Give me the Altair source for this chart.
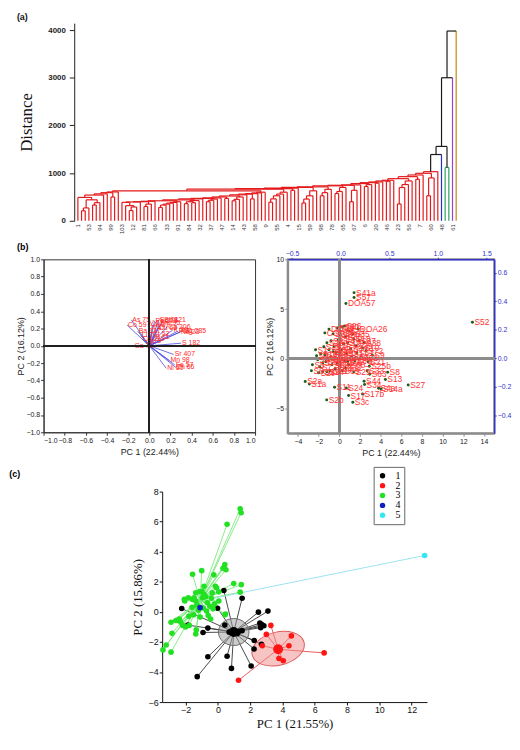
import altair as alt
import pandas as pd

# ------------------------------------------------------------------
# (a) dendrogram: tree structure with merge heights
# ------------------------------------------------------------------
RED, BLUE, GREEN, PURPLE, ORANGE, BLACK = "#e41a1c", "#2233cc", "#2ca25f", "#9b3fe0", "#c8860a", "#1a1a1a"
O = "leaf"


def C(*items, h):
    node = items[0]
    for it, hh in zip(items[1:], h):
        node = (node, it, hh)
    return node


L_a = C(C(O, O, h=[210]), O, h=[270])
L_b = C(O, O, O, h=[330, 380])
L_ab = C(L_a, L_b, h=[440])
L_c = C(O, O, h=[500])
L_heights = [540, 565, 590, 605]
L_grp = C(C(O, L_ab, h=[490]), O, O, L_c, O, h=L_heights)

M1 = C(O, C(C(O, O, h=[215]), O, h=[290]), h=[318])
M2 = C(C(O, O, h=[300]), O, h=[350])
M3 = C(C(O, O, h=[280]), O, O, O, O, O, h=[330, 350, 370, 385, 400])
M4 = C(C(O, O, h=[360]), C(O, O, h=[380]), O, h=[400, 425])
M5 = C(C(O, O, h=[400]), O, O, h=[430, 455])
M6 = C(O, O, h=[470])
M7 = C(C(O, O, h=[420]), O, O, h=[450, 500])
M8 = C(O, O, h=[460])
M_chain_heights = [387, 395, 400, 410, 420, 440, 460, 470, 480, 500, 520, 545, 560, 570, 585, 600]
M_grp = C(O, M1, O, M2, O, M3, M4, O, M5, O, M6, M7, O, M8, O, O, O, h=M_chain_heights)
LM = C(L_grp, M_grp, h=[628])

R1 = C(C(O, O, h=[390]), O, O, O, O, h=[460, 525, 560, 600])
R2 = C(O, O, h=[640])
R3 = C(C(O, O, h=[373]), O, O, O, h=[456, 525, 629])
R4 = C(C(O, O, h=[525]), O, O, h=[590, 660])
R5 = C(C(O, O, h=[573]), O, O, h=[615, 700])
R6 = C(C(O, O, h=[400]), O, h=[640])
R7 = C(O, O, O, h=[720, 760])
R8 = C(O, O, h=[790])
R9 = C(O, O, h=[830])
R10 = C(C(C(O, O, h=[353]), O, h=[698]), O, O, h=[760, 836])
R11 = C(O, O, h=[870])
R12 = C(C(O, O, h=[525]), O, h=[900])
red_chain_heights = [663, 675, 684, 700, 712, 733, 745, 753, 781, 800, 815, 835, 850, 884, 926, 961, 996, 1030]
red_tree = C(LM, R1, R2, O, R3, R4, R5, R6, O, R7, R8, O, R9, O, R10, R11, O, R12, O, h=red_chain_heights)

green_height = 1120
top_heights = [1390, 1560, 3000, 3980]
root = C(("clu", red_tree, RED), ("clu", O, BLUE), ("clu", (O, O, green_height), GREEN),
         ("clu", O, PURPLE), ("clu", O, ORANGE), h=top_heights)

leaf_tick_labels = ["1", "53", "94", "99", "103", "12", "81", "66", "33", "91", "84", "32", "37",
                    "47", "14", "43", "58", "9", "55", "4", "15", "59", "98", "78", "65", "67",
                    "6", "20", "46", "23", "56", "7", "60", "48", "61"]

segs = []
counter = [0]


def lay(node, color):
    if node == O:
        x = counter[0]
        counter[0] += 1
        return x, 0.0, True, color
    if node[0] == "clu":
        return lay(node[1], node[2])
    l, r, h = node
    xl, hl, isl, cl = lay(l, color)
    xr, hr, isr, cr = lay(r, color)
    segs.append((xl, hl, xl, h, cl if isl else color))
    segs.append((xr, hr, xr, h, cr if isr else color))
    segs.append((xl, h, xr, h, color))
    return (xl + xr) / 2.0, h, False, color


lay(root, BLACK)
seg_df = pd.DataFrame(segs, columns=["x", "y", "x2", "y2", "c"])

label_expr = "[" + ",".join(repr(s) for s in leaf_tick_labels) + "][round(datum.value / 3)]"


def spacer(w, h=1, title=None, offset=8):
    props = dict(width=w, height=h, view=alt.ViewBackground(stroke="transparent"))
    if title is not None:
        props["title"] = alt.TitleParams(title, anchor="start", frame="bounds", fontSize=9,
                                         fontWeight="bold", offset=offset)
    return alt.Chart(pd.DataFrame({"v": [0]})).mark_point(opacity=0).encode(
        x=alt.value(0), y=alt.value(0)).properties(**props)


dend = alt.Chart(seg_df).mark_rule(strokeWidth=1.2).encode(
    x=alt.X("x:Q", scale=alt.Scale(domain=[-1, 103.4], nice=False, zero=False),
            axis=alt.Axis(values=list(range(0, 103, 3)), labelExpr=label_expr, labelAngle=270,
                          domain=False, ticks=False, title=None, labelFontSize=6,
                          labelColor="#333", labelPadding=3, labelOverlap=False)),
    x2="x2:Q",
    y=alt.Y("y:Q", scale=alt.Scale(domain=[0, 4145], nice=False),
            axis=alt.Axis(values=[0, 1000, 2000, 3000, 4000], format="d", title="Distance",
                          titleFont="Liberation Serif", titleFontSize=17, titleFontWeight="normal",
                          titleColor="#111", titlePadding=12, labelFontSize=8, labelFontWeight="bold",
                          labelColor="#222", tickSize=5, tickColor="#222", domainColor="#222",
                          labelPadding=4, labelOverlap=False)),
    y2="y2:Q",
    color=alt.Color("c:N", scale=None),
)
tag_a = alt.Chart(pd.DataFrame({"t": ["(a)"]})).mark_text(
    align="left", baseline="middle", fontSize=9, fontWeight="bold", color="#111").encode(
    x=alt.value(-58), y=alt.value(-6), text="t:N")
chart_a = alt.layer(dend, tag_a).properties(
    width=388, height=200, view=alt.ViewBackground(stroke="transparent"))

# ------------------------------------------------------------------
# (b) left: loadings
# ------------------------------------------------------------------
load_labels = ["As 75", "Co 59", "Ba 137", "Li 7", "Cd 111", "Ga 71", "Be 9", "V 51", "Ti 47",
               "Cr 52", "Pb 208", "Se 78", "Sb 121", "Al 27", "Cu 63", "Mo 95", "Ca 206", "K 39",
               "P 31", "Na 23", "Mg 285", "S 182", "Sr 407", "Mn 98", "Fe 57", "Zn 66", "Ni 60", "B 11"]
load_x = [-0.17, -0.21, -0.11, -0.08, -0.07, -0.15, -0.03, -0.01, 0.0, 0.02, 0.05, 0.09, 0.13, 0.03,
          0.08, 0.10, 0.17, 0.22, 0.27, 0.29, 0.31, 0.30, 0.23, 0.19, 0.24, 0.25, 0.16, 0.05]
load_y = [0.30, 0.24, 0.17, 0.12, 0.08, 0.0, 0.05, 0.26, 0.20, 0.14, 0.29, 0.30, 0.30, 0.24,
          0.20, 0.26, 0.22, 0.18, 0.17, 0.16, 0.17, 0.03, -0.10, -0.17, -0.22, -0.25, -0.26, 0.10]
load_df = pd.DataFrame({"el": load_labels, "x": load_x, "y": load_y})

ax_b = dict(labelFontSize=7, labelColor="#222", tickSize=3, tickColor="#333", domainColor="#333",
            titleFontSize=9, titleFontWeight="normal", titleColor="#222", labelPadding=1,
            labelOverlap=False)
vals_b1 = [-1.0, -0.8, -0.6, -0.4, -0.2, 0.0, 0.2, 0.4, 0.6, 0.8, 1.0]
AX_b1x = alt.Axis(values=vals_b1, format=".1f", title="PC 1 (22.44%)", titlePadding=4, **ax_b)
AX_b1y = alt.Axis(values=vals_b1, format=".1f", title="PC 2 (16.12%)", titlePadding=0, **ax_b)
xs_b1 = alt.Scale(domain=[-1, 1], nice=False)
ys_b1 = alt.Scale(domain=[-1, 1], nice=False)

b1_vec = alt.Chart(load_df).mark_rule(color="#4a4ae0", strokeWidth=0.8).encode(
    x=alt.X("x:Q", scale=xs_b1, axis=AX_b1x), y=alt.Y("y:Q", scale=ys_b1, axis=AX_b1y),
    x2=alt.datum(0), y2=alt.datum(0))
b1_txt = alt.Chart(load_df).mark_text(align="left", baseline="middle", dx=1, fontSize=7,
                                      color="#ff2a2a").encode(
    x=alt.X("x:Q", scale=xs_b1, axis=AX_b1x), y=alt.Y("y:Q", scale=ys_b1, axis=AX_b1y), text="el:N")
b1_v = alt.Chart(load_df).mark_rule(color="#222", strokeWidth=1).encode(
    x=alt.X(datum=0, scale=xs_b1, axis=AX_b1x))
b1_h = alt.Chart(load_df).mark_rule(color="#222", strokeWidth=1).encode(
    y=alt.Y(datum=0, scale=ys_b1, axis=AX_b1y))
b1 = alt.layer(b1_vec, b1_txt, b1_v, b1_h).properties(
    width=214, height=175,
    view=alt.ViewBackground(stroke="#333", strokeWidth=1),
    title=alt.TitleParams("(b)", anchor="start", frame="bounds", fontSize=9, fontWeight="bold",
                          offset=3),
)

# ------------------------------------------------------------------
# (b) right: scores
# ------------------------------------------------------------------
score_labels = ["S41a", "S57", "DOA57", "S52", "S27", "S13", "S8", "S9", "S2b", "S3c", "S17b", "S17",
                "S24", "S11", "S2a", "S1a", "S32", "S29", "S63", "S44", "S34", "S4a", "S14a", "S10",
                "S18", "DOA26", "S26", "COA26", "DOA2", "S25b", "S33", "S21", "S22_1",
                "S1", "S3", "S4", "S5", "S6", "S7", "S12", "S14", "S15", "S16", "S19", "S20", "S23",
                "S25", "S28", "S30", "S31", "S35", "S36", "S37", "S38", "S39", "S40", "S42", "S43",
                "S45", "S46", "S47", "S48", "S49", "S50", "S51", "S53", "S54", "S55", "S56", "S58",
                "S59", "S60", "S61", "S62", "S64", "S65", "S66", "S67", "S68", "S69", "S70", "S71",
                "S72", "S2c"]
score_x = [1.43, 1.43, 0.64, 12.89, 6.67, 4.46, 4.68, 3.2, -1.22, 1.31, 2.25, 0.9,
           0.68, -0.46, -3.3, -2.9, 0.6, 1.4, 2.94, 2.4, 2.45, 3.8, 4.05, 2.25,
           1.4, 1.8, 0.5, -1.4, -1.0, 2.9, 2.7, 2.8, 0.8,
           -2.3, -2.2, -2.1, -2.6, -2.7, -1.9, -1.6, -1.2, -0.9, -1.8, -1.5, -1.2, -0.8,
           -0.6, -0.2, 0.3, 0.9, 1.3, 0.6, 1.9, 2.4, 1.6, 1.1, 0.4, -0.1,
           -0.5, -1.0, -1.4, -0.8, -0.3, 0.2, 0.7, 1.2, 0.5, -0.2, -0.7, -1.3,
           0.0, 0.9, 1.7, 2.1, -0.4, 0.3, -1.0, 0.1, 1.5, -0.6, 0.8, -1.6,
           2.6, -2.0]
score_y = [6.65, 6.16, 5.56, 3.67, -2.65, -2.09, -1.36, 0.36, -4.14, -4.37, -3.55, -3.71,
           -2.95, -2.88, -2.29, -2.55, -0.96, -1.33, -1.56, -2.26, -2.6, -2.98, -3.05, 1.09,
           1.98, 3.0, 3.3, 2.6, 2.98, -0.75, -1.2, -0.3, -0.3,
           0.9, 0.3, -0.1, -0.6, -1.2, -0.8, -1.3, -1.3, -1.2, 0.5, 1.2, 1.6, 1.8,
           2.5, 3.1, 3.2, 2.8, 2.5, 2.2, 1.8, 1.6, 1.3, 1.0, 1.5, 1.9,
           1.2, 0.9, 0.4, 0.2, 0.6, 0.9, 0.5, 0.2, -0.2, -0.4, -0.6, -0.3,
           0.1, -0.6, 0.6, 0.1, -1.0, -1.2, -0.1, 2.4, -0.2, 0.7, 1.6, -0.4,
           0.8, -1.4]
score_df = pd.DataFrame({"lab": score_labels, "x": score_x, "y": score_y})

top_axis_domain = [-0.545, 1.58]
right_axis_domain = [-0.528, 0.695]
sec_df = pd.DataFrame({"tx": top_axis_domain, "ty": right_axis_domain})

GRAY = "#8c8c8c"
ax_b2 = dict(labelFontSize=7, labelColor="#222", tickSize=3, tickColor=GRAY, domainColor=GRAY,
             domainWidth=2, titleFontSize=9, titleFontWeight="normal", titleColor="#222",
             labelPadding=1, labelOverlap=False)
AX_b2x = alt.Axis(values=[-4, -2, 0, 2, 4, 6, 8, 10, 12, 14], format="d", title="PC 1 (22.44%)",
                  titlePadding=4, **ax_b2)
AX_b2y = alt.Axis(values=[-5, 0, 5, 10], format="d", title="PC 2 (16.12%)", titlePadding=1, **ax_b2)
xs_b2 = alt.Scale(domain=[-5, 15], nice=False)
ys_b2 = alt.Scale(domain=[-7.5, 10], nice=False)
b2_pts = alt.Chart(score_df).mark_circle(size=9, color="#1d5c1d", opacity=1).encode(
    x=alt.X("x:Q", scale=xs_b2, axis=AX_b2x), y=alt.Y("y:Q", scale=ys_b2, axis=AX_b2y))
b2_txt = alt.Chart(score_df).mark_text(align="left", baseline="middle", dx=2, fontSize=8.5,
                                       color="#ff3333").encode(
    x=alt.X("x:Q", scale=xs_b2, axis=AX_b2x), y=alt.Y("y:Q", scale=ys_b2, axis=AX_b2y), text="lab:N")
b2_v = alt.Chart(score_df).mark_rule(color=GRAY, strokeWidth=2).encode(
    x=alt.X(datum=0, scale=xs_b2, axis=AX_b2x))
b2_h = alt.Chart(score_df).mark_rule(color=GRAY, strokeWidth=2).encode(
    y=alt.Y(datum=0, scale=ys_b2, axis=AX_b2y))
ax_blue = dict(labelFontSize=7, labelColor="#3333cc", tickSize=2, tickColor="#3333cc",
               domainColor="#3333cc", domainWidth=1.5, title=None, labelPadding=1, labelOverlap=False)
b2_sec = alt.Chart(sec_df).mark_point(opacity=0).encode(
    x=alt.X("tx:Q", scale=alt.Scale(domain=top_axis_domain, nice=False, zero=False),
            axis=alt.Axis(orient="top", values=[-0.5, 0.0, 0.5, 1.0, 1.5], format=".1f", **ax_blue)),
    y=alt.Y("ty:Q", scale=alt.Scale(domain=right_axis_domain, nice=False, zero=False),
            axis=alt.Axis(orient="right", values=[-0.4, -0.2, 0.0, 0.2, 0.4, 0.6], format=".1f",
                          **ax_blue)))
b2 = alt.layer(alt.layer(b2_pts, b2_v, b2_h, b2_txt), b2_sec).resolve_scale(
    x="independent", y="independent").properties(
    width=209, height=176, view=alt.ViewBackground(stroke=GRAY, strokeWidth=2))

# ------------------------------------------------------------------
# (c) cluster scatter with spider lines
# ------------------------------------------------------------------
c1_x = [0.37, 1.5, -2.24, -0.02, -1.86, -0.62, -0.92, 0.43, 2.51, 3.1, 2.6, 2.72, 2.85, 2.65, 2.25,
        2.7, 2.24, 2.06, 0.57, -0.62, 0.84, -1.28, 1.3, 1.5, 0.7, 1.2]
c1_y = [1.42, 0.9, 0.22, 0.24, -0.88, -1.08, -1.37, -0.88, -0.02, 0.05, -0.75, -0.85, -0.92, -1.05,
        -1.9, -2.15, -2.47, -3.6, -2.95, -2.99, -3.76, -4.31, -1.3, -1.25, -1.35, -1.45]
c2_x = [3.28, 3.0, 4.55, 4.4, 2.75, 3.78, 4.05, 6.58, 1.28]
c2_y = [-0.9, -1.5, -1.6, -2.25, -2.25, -3.1, -3.25, -2.73, -4.55]
c3_x = [1.38, 1.44, 0.57, 0.43, 0.37, 0.5, -1.57, -1.0, -0.25, 0.32, 0.98, 1.45, 1.38, -0.15, -0.08,
        0.05, -0.35, -0.86, -1.0, -1.13, -1.57, -2.08, -1.83, -2.05, -1.37, -1.47, -1.37, -0.86,
        -0.96, -0.65, 0.06, -0.2, -0.5, 0.47, 0.45, -0.45, -2.39, -2.6, -2.5, -2.3, -2.9, -2.18,
        -1.77, -2.0, -2.84, -1.37, -1.34, -3.2, -3.4, -2.9, -1.2, -0.9, -0.7, -1.5, -1.1, -0.6,
        -1.8, -0.3, -1.3, -0.75, -1.6, -0.4]
c3_y = [6.85, 6.59, 5.83, 3.15, 2.93, 2.8, 2.5, 2.74, 2.46, 2.9, 1.88, 1.81, 1.31, 1.7, 1.6,
        1.33, 1.26, 1.7, 1.37, 1.35, 0.83, 0.83, 0.94, 0.72, 0.72, 0.94, 1.27, 1.16,
        0.94, 0.61, 0.72, 0.53, 0.37, -0.14, -0.19, -0.47, -0.47, -0.58, -0.57, -0.67, -0.69, -0.9,
        -0.9, -1.0, -1.42, -1.47, -1.2, -2.2, -2.53, -2.68, 0.1, 0.25, 0.05, -0.2, -0.35, -0.25,
        -0.3, 0.2, 0.45, 1.0, 0.3, 0.9]
c4_x = [-1.1]
c4_y = [0.28]
c5_x = [12.8]
c5_y = [3.75]

cluster_names = ["1", "2", "3", "4", "5"]
cluster_colors = ["#000000", "#ff1414", "#22e022", "#1020c0", "#33e6f0"]
line_colors = ["#333333", "#e84a4a", "#7be87b", "#1020c0", "#8fe0ee"]
cent_x = [0.98, 3.73, -1.1, -1.1, -0.5]
cent_y = [-1.34, -2.49, 0.78, 0.28, 0.85]

rows = []
for k, (xs, ys) in enumerate([(c1_x, c1_y), (c2_x, c2_y), (c3_x, c3_y), (c4_x, c4_y), (c5_x, c5_y)]):
    for xv, yv in zip(xs, ys):
        rows.append({"x": xv, "y": yv, "cluster": cluster_names[k], "cx": cent_x[k],
                     "cy": cent_y[k], "lc": line_colors[k]})
pc_df = pd.DataFrame(rows)

cent_df = pd.DataFrame({"cx": cent_x[:2], "cy": cent_y[:2], "col": cluster_colors[:2]})

ell_x = [0.98, 3.73]
ell_y = [-1.34, -2.45]
ell_size = [961, 2916]
ell_angle = [0, 346]
ell_shape = ["M-1,0A1,0.88 0 1,1 1,0A1,0.88 0 1,1 -1,0Z", "M-1,0A1,0.62 0 1,1 1,0A1,0.62 0 1,1 -1,0Z"]
ell_fill = ["#9a9a9a", "#f08a8a"]
ell_stroke = ["#6a6a6a", "#e05a5a"]
ell_df = pd.DataFrame({"x": ell_x, "y": ell_y, "s": ell_size, "a": ell_angle, "sh": ell_shape,
                       "f": ell_fill, "st": ell_stroke})

SERIF = "Liberation Serif"
ax_c = dict(labelFontSize=9, labelColor="#111", tickSize=3, tickColor="#111", domainColor="#111",
            titleFont=SERIF, titleFontSize=13, titleFontWeight="normal", titleColor="#111",
            labelPadding=1, labelOverlap=False)
AX_cx = alt.Axis(values=[-2, 0, 2, 4, 6, 8, 10, 12], title="PC 1 (21.55%)", titlePadding=3, **ax_c)
AX_cy = alt.Axis(values=[-6, -4, -2, 0, 2, 4, 6, 8], title="PC 2 (15.86%)", titlePadding=4, **ax_c)
xs_c = alt.Scale(domain=[-3.45, 12.95], nice=False, zero=False)
ys_c = alt.Scale(domain=[-6, 8], nice=False, zero=False)

c_lines = alt.Chart(pc_df).mark_rule(strokeWidth=0.9).encode(
    x=alt.X("x:Q", scale=xs_c, axis=AX_cx), y=alt.Y("y:Q", scale=ys_c, axis=AX_cy),
    x2="cx:Q", y2="cy:Q", color=alt.Color("lc:N", scale=None))
c_ell = alt.Chart(ell_df).mark_point(filled=True, fillOpacity=0.5, strokeWidth=1).encode(
    x=alt.X("x:Q", scale=xs_c, axis=AX_cx), y=alt.Y("y:Q", scale=ys_c, axis=AX_cy),
    size=alt.Size("s:Q", scale=None), angle=alt.Angle("a:Q", scale=None),
    shape=alt.Shape("sh:N", scale=None), fill=alt.Fill("f:N", scale=None),
    stroke=alt.Stroke("st:N", scale=None))
c_pts = alt.Chart(pc_df).mark_circle(size=32, opacity=1).encode(
    x=alt.X("x:Q", scale=xs_c, axis=AX_cx), y=alt.Y("y:Q", scale=ys_c, axis=AX_cy),
    color=alt.Color("cluster:N", scale=alt.Scale(domain=cluster_names, range=cluster_colors),
                    legend=alt.Legend(orient="none", legendX=214, legendY=-25, title=None,
                                      strokeColor="#666", fillColor="white", padding=4,
                                      symbolSize=30, symbolType="circle", labelFont=SERIF,
                                      labelFontSize=10, rowPadding=0, labelOffset=8)))
c_cent = alt.Chart(cent_df).mark_circle(size=100, opacity=1).encode(
    x=alt.X("cx:Q", scale=xs_c, axis=AX_cx), y=alt.Y("cy:Q", scale=ys_c, axis=AX_cy),
    color=alt.Color("col:N", scale=None))
chart_c = alt.layer(c_lines, c_ell, c_pts, c_cent).properties(
    width=268, height=213, view=alt.ViewBackground(stroke="transparent"))

row_a = alt.hconcat(spacer(2), chart_a, spacing=0).resolve_scale(color="independent")
row_b = alt.hconcat(spacer(1), b1, spacer(4), b2, spacing=0).resolve_scale(color="independent")
row_c = alt.hconcat(spacer(119, title="(c)", offset=10), chart_c, spacing=0).resolve_scale(
    color="independent")

chart = alt.vconcat(row_a, row_b, row_c, spacing=8).resolve_scale(
    color="independent").properties(padding=0).configure(font="Liberation Sans").configure_axis(
    grid=False, labelOverlap=False)

chart.save("out.html", embed_options={"renderer": "svg", "actions": False})
